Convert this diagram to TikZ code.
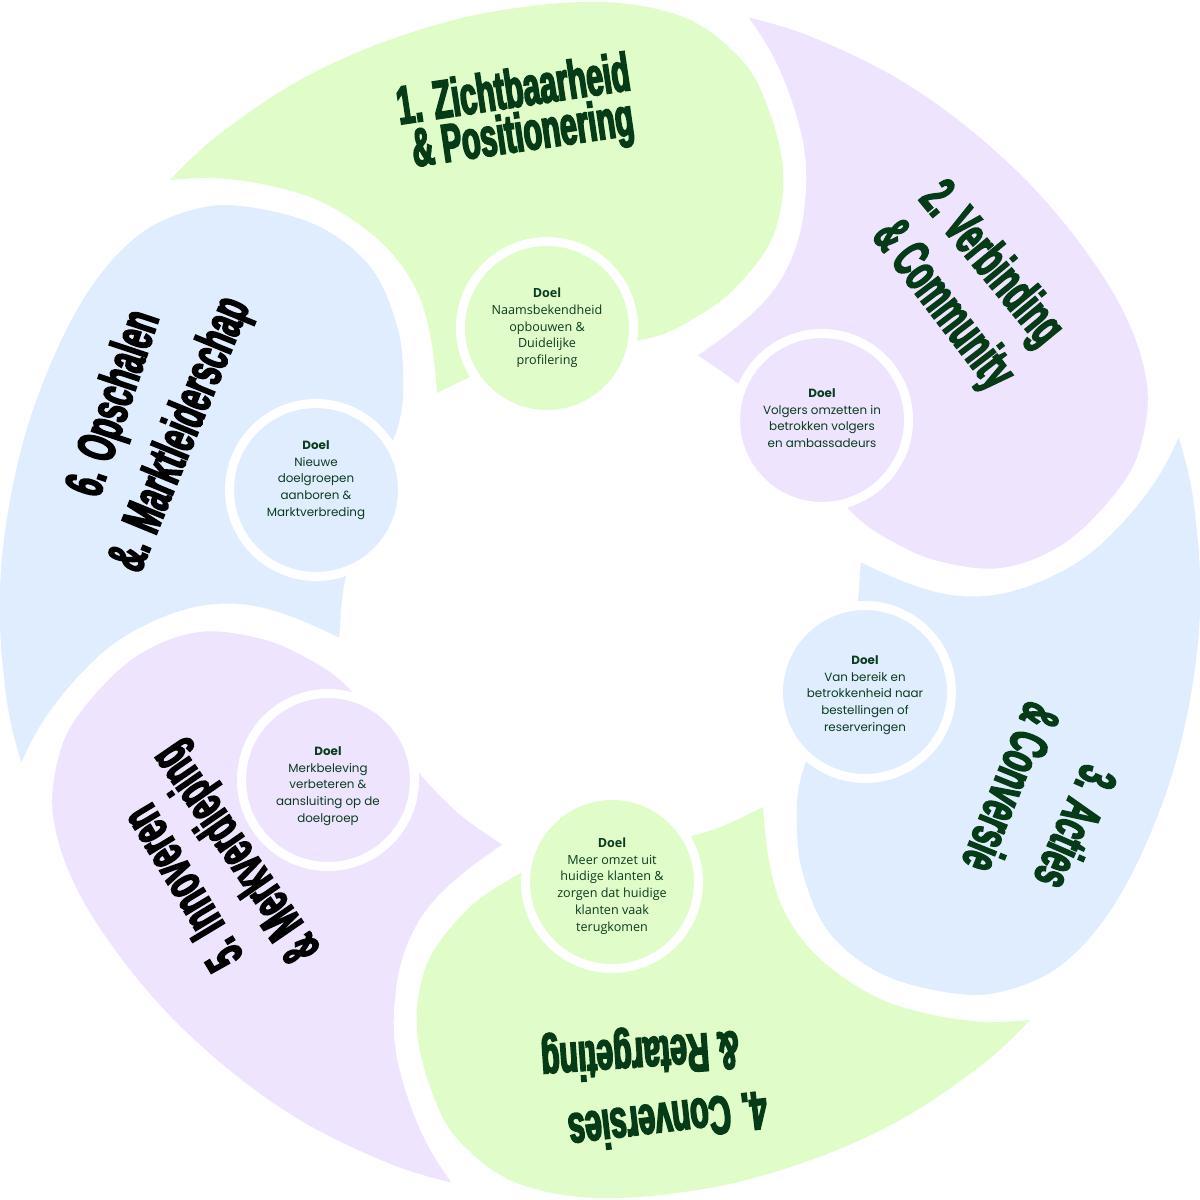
\documentclass[tikz,border=0pt]{standalone}
\usepackage{fontspec}
\setmainfont{Poppins}
\newfontfamily\ttlfont{Liberation Sans}[FakeStretch=0.56, FakeBold=3]
\newfontfamily\cfontA{Open Sans}
\newfontfamily\cfontB{Poppins}
\definecolor{pgreen}{HTML}{E0FCC8}
\definecolor{ppurple}{HTML}{EEE4FE}
\definecolor{pblue}{HTML}{E0EDFE}
\definecolor{dgreen}{HTML}{0A3C1E}
\definecolor{tgreen}{HTML}{053B16}
\newcommand\mypetal[2]{%
  \fill[#1, rotate around={#2:(600,600)}]
    plot[smooth,tension=0.6] coordinates {(170,180) (217,136) (300,80) (392,39) (491,12) (600,2) (683,17) (737,55) (765,100) (783,170) (773,236) (735,288) (693,319) (654,337) (600,346) (550,355) (512,363) (477,374) (437,393)}
    -- plot[smooth,tension=0.6] coordinates {(437,393) (432,345) (420,298) (396,258) (360,225) (315,199) (262,184) (212,178) (170,180)}
    -- cycle;}
\tikzset{
  disc/.style={circle, draw=white, line width=9pt, minimum size=173pt, inner sep=0pt},
  ctxtA/.style={align=center, text=dgreen, inner sep=0pt, font=\cfontA\fontsize{12.6}{16.7}\selectfont},
  ctxtB/.style={align=center, text=dgreen, inner sep=0pt, font=\cfontB\fontsize{11.9}{16.7}\selectfont},
  ttl/.style={inner sep=0pt, font=\ttlfont\bfseries\fontsize{54}{54}\selectfont},
}
\begin{document}
\begin{tikzpicture}[x=1pt,y=-1pt]
\fill[white] (0,0) rectangle (1200,1200);
\useasboundingbox (0,0) rectangle (1200,1200);
% petals
\mypetal{pgreen}{0}
\mypetal{ppurple}{-60}
\mypetal{pblue}{-120}
\mypetal{pgreen}{-180}
\mypetal{ppurple}{-240}
\mypetal{pblue}{-300}
% circles
\node[disc, fill=pgreen]  (c1) at (547,328) {};
\node[disc, fill=ppurple] (c2) at (822,420) {};
\node[disc, fill=pblue]   (c3) at (865,692) {};
\node[disc, fill=pgreen]  (c4) at (612,882) {};
\node[disc, fill=ppurple] (c5) at (328,780) {};
\node[disc, fill=pblue]   (c6) at (316,490) {};
% circle texts
\node[ctxtA] (d1) at (547,328) {\textbf{Doel}\\Naamsbekendheid\\opbouwen \&\\Duidelijke\\profilering};
\node[ctxtB] (d2) at (822,418) {\textbf{Doel}\\Volgers omzetten in\\betrokken volgers\\en ambassadeurs};
\node[ctxtB] (d3) at (865,695) {\textbf{Doel}\\Van bereik en\\betrokkenheid naar\\bestellingen of\\reserveringen};
\node[ctxtA] (d4) at (612,886) {\textbf{Doel}\\Meer omzet uit\\huidige klanten \&\\zorgen dat huidige\\klanten vaak\\terugkomen};
\node[ctxtB] (d5) at (328,786) {\textbf{Doel}\\Merkbeleving\\verbeteren \&\\aansluiting op de\\doelgroep};
\node[ctxtB] (d6) at (316,480) {\textbf{Doel}\\Nieuwe\\doelgroepen\\aanboren \&\\Marktverbreding};
% titles
\node[ttl, text=tgreen, rotate=8.5]   (t1a) at (513,88)   {1. Zichtbaarheid};
\node[ttl, text=tgreen, rotate=8.3]   (t1b) at (523,137)  {\& Positionering};
\node[ttl, text=tgreen, rotate=-50.5] (t2a) at (990,265)  {2. Verbinding};
\node[ttl, text=tgreen, rotate=-52.6] (t2b) at (942,306)  {\& Community};
\node[ttl, text=tgreen, rotate=-113.6] (t3a) at (1076,828) {3. Acties};
\node[ttl, text=tgreen, rotate=-112]  (t3b) at (1012,788) {\& Conversie};
\node[ttl, text=tgreen, rotate=186.8] (t4a) at (668,1122) {4. Conversies};
\node[ttl, text=tgreen, rotate=184]   (t4b) at (640,1052) {\& Retargeting};
\node[ttl, text=black, rotate=121]    (t5a) at (182,888)  {5. Innoveren};
\node[ttl, text=black, rotate=124.6]  (t5b) at (238,852)  {\& Merkverdieping};
\node[ttl, text=black, rotate=71.6]   (t6a) at (116,404)  {6. Opschalen};
\node[ttl, text=black, rotate=67.7]   (t6b) at (182,435)  {\&. Marktleiderschap};
\end{tikzpicture}
\end{document}
